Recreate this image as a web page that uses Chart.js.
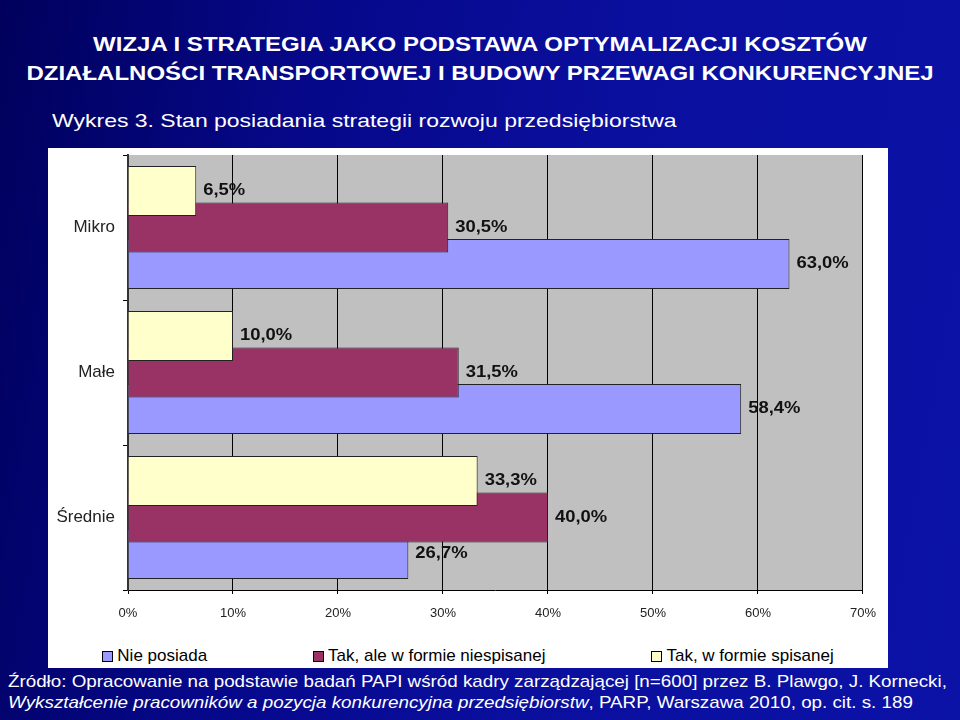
<!DOCTYPE html>
<html>
<head>
<meta charset="utf-8">
<script src="https://cdn.jsdelivr.net/npm/chart.js@4.4.1/dist/chart.umd.min.js"></script>
<style>
  html, body { margin: 0; padding: 0; }
  body {
    width: 960px; height: 720px; overflow: hidden; position: relative;
    font-family: "Liberation Sans", Arial, sans-serif;
    background: linear-gradient(100deg, #00005c 0%, #06088a 30%, #0a0f9e 60%, #0b12a6 100%);
  }
  .title {
    position: absolute; left: 0; width: 960px; text-align: center;
    color: #fff; font-weight: bold; font-size: 20px; white-space: nowrap;
    transform: scaleX(1.2); transform-origin: 480px 50%;
  }
  .sub {
    position: absolute; left: 52px; top: 110px; color: #fff; font-size: 19px; white-space: nowrap;
    transform: scaleX(1.21); transform-origin: 0 50%;
  }
  .src {
    position: absolute; left: 8px; color: #fff; font-size: 17px; white-space: nowrap;
    transform: scaleX(1.105); transform-origin: 0 50%;
  }
  #panel { position: absolute; left: 48px; top: 148px; width: 840px; height: 520px; background: #fff; }
  #chartBox { position: absolute; left: 0; top: 0; width: 840px; height: 480px; }
  #legend {
    position: absolute; left: 0; top: 496px; width: 840px; height: 24px;
    display: flex; justify-content: center; gap: 106px; font-size: 17px; color: #000;
  }
  #legend span.item { display: flex; align-items: center; white-space: nowrap; }
  #legend span.box { display: inline-block; width: 9px; height: 9px; border: 1px solid #000; margin-right: 4px; }
</style>
</head>
<body>
<div class="title" style="top:33px">WIZJA I STRATEGIA JAKO PODSTAWA OPTYMALIZACJI KOSZTÓW</div>
<div class="title" style="top:62px">DZIAŁALNOŚCI TRANSPORTOWEJ I BUDOWY PRZEWAGI KONKURENCYJNEJ</div>
<div class="sub">Wykres 3. Stan posiadania strategii rozwoju przedsiębiorstwa</div>

<div id="panel">
  <div id="chartBox"><canvas id="chart"></canvas></div>
  <div id="legend"></div>
</div>

<div class="src" style="top:672px">Źródło: Opracowanie na podstawie badań PAPI wśród kadry zarządzającej [n=600] przez B. Plawgo, J. Kornecki,</div>
<div class="src" style="top:693px"><i>Wykształcenie pracowników a pozycja konkurencyjna przedsiębiorstw</i>, PARP, Warszawa 2010, op. cit. s. 189</div>

<script>
// chart data
var categories = ["Mikro", "Małe", "Średnie"];
var takSpisanej = [6.5, 10.0, 33.3];
var takNiespisanej = [30.5, 31.5, 40.0];
var niePosiada = [63.0, 58.4, 26.7];
var seriesNames = ["Tak, w formie spisanej", "Tak, ale w formie niespisanej", "Nie posiada"];
var seriesColors = ["#ffffcc", "#993366", "#9999ff"];
var xMin = 0, xMax = 70, xStep = 10;

function fmt(v) {
  return v.toFixed(1).replace(".", ",") + "%";
}

// grey plot area behind bars
var plotBg = {
  id: "plotBg",
  beforeDraw: function (chart) {
    var a = chart.chartArea;
    chart.ctx.save();
    chart.ctx.fillStyle = "#c0c0c0";
    chart.ctx.fillRect(a.left, a.top, a.right - a.left, a.bottom - a.top);
    chart.ctx.restore();
  },
};

// value labels right of each bar
var valueLabels = {
  id: "valueLabels",
  afterDatasetsDraw: function (chart) {
    var ctx = chart.ctx;
    ctx.save();
    ctx.font = "bold 16px 'Liberation Sans', Arial";
    ctx.fillStyle = "#111";
    ctx.textBaseline = "middle";
    chart.data.datasets.forEach(function (ds, i) {
      chart.getDatasetMeta(i).data.forEach(function (bar, j) {
        ctx.save();
        ctx.translate(bar.x + 7, bar.y);
        ctx.scale(1.15, 1);
        ctx.fillText(fmt(ds.data[j]), 0, 0);
        ctx.restore();
      });
    });
    ctx.restore();
  },
};

var allData = [takSpisanej, takNiespisanej, niePosiada];
var datasets = allData.map(function (d, i) {
  return {
    label: seriesNames[i],
    data: d,
    backgroundColor: seriesColors[i],
    borderColor: "#222",
    borderWidth: 1,
    categoryPercentage: 0.755,
    barPercentage: 1.37,
  };
});

new Chart(document.getElementById("chart"), {
  type: "bar",
  data: { labels: categories, datasets: datasets },
  plugins: [plotBg, valueLabels],
  options: {
    indexAxis: "y",
    responsive: true,
    maintainAspectRatio: false,
    animation: false,
    layout: { padding: { top: 7, right: 23, left: 0, bottom: 0 } },
    scales: {
      x: {
        min: xMin,
        max: xMax,
        ticks: {
          stepSize: xStep,
          padding: 12,
          color: "#222",
          font: { size: 13, family: "'Liberation Sans', Arial" },
          callback: function (v) { return v + "%"; },
        },
        grid: { color: "#000", lineWidth: 1, tickLength: 4 },
        border: { display: true, color: "#000", width: 1 },
        afterFit: function (s) { s.height = 38; },
      },
      y: {
        ticks: {
          padding: 8,
          color: "#222",
          font: { size: 17, family: "'Liberation Sans', Arial" },
        },
        grid: { drawOnChartArea: false, color: "#000", tickLength: 5, offset: true },
        border: { display: true, color: "#333", width: 2 },
        afterFit: function (s) {
          s.width = 80;
          s.paddingTop = 0;
          s.paddingBottom = 0;
        },
      },
    },
    plugins: {
      legend: { display: false },
      tooltip: { enabled: false },
    },
  },
});

// legend in the reference order
var legend = document.getElementById("legend");
[2, 1, 0].forEach(function (i) {
  var item = document.createElement("span");
  item.className = "item";
  item.innerHTML = '<span class="box" style="background:' + seriesColors[i] + '"></span>' + seriesNames[i];
  legend.appendChild(item);
});
</script>
</body>
</html>
